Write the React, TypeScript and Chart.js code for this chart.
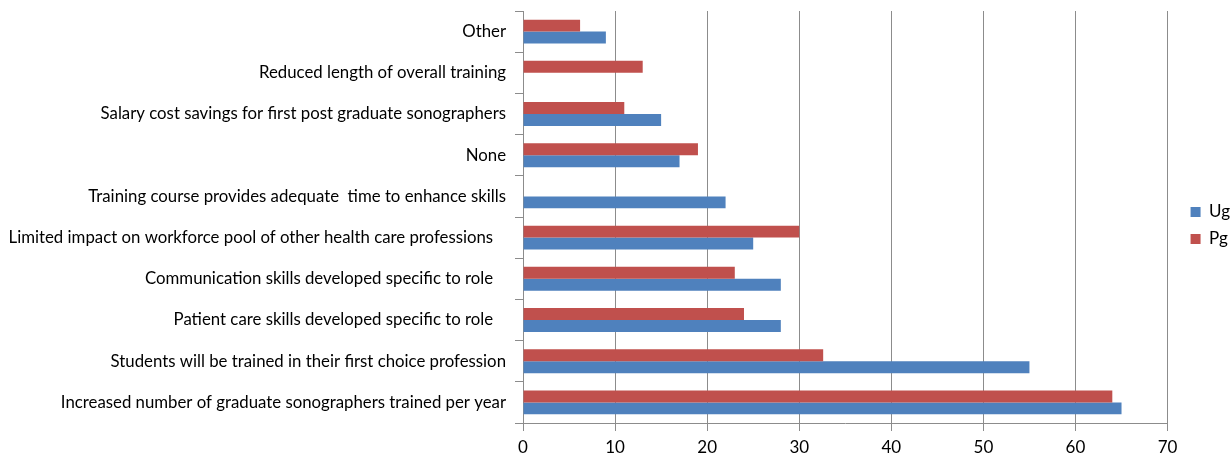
import React, { useEffect, useRef } from "react";
import { Chart, registerables } from "chart.js";

Chart.register(...registerables);

const categories = [
  "Other",
  "Reduced length of overall training",
  "Salary cost savings for first post graduate sonographers",
  "None",
  "Training course provides adequate  time to enhance skills",
  "Limited impact on workforce pool of other health care professions   ",
  "Communication skills developed specific to role   ",
  "Patient care skills developed specific to role   ",
  "Students will be trained in their first choice profession",
  "Increased number of graduate sonographers trained per year",
];

const ugValues = [9, 0, 15, 17, 22, 25, 28, 28, 55, 65];
const pgValues = [6.2, 13, 11, 19, 0, 30, 23, 24, 32.6, 64];

const xTicks = [0, 10, 20, 30, 40, 50, 60, 70];

const FONT = "Lato, 'Open Sans', sans-serif";

const legendShift = {
  id: "legendShift",
  afterLayout(chart: any) {
    const lg = chart.legend;
    if (!lg) return;
    const dx = 13;
    const dy = -8;
    lg.left += dx;
    lg.right += dx;
    lg.top += dy;
    lg.bottom += dy;
  },
};

export default function App() {
  const ref = useRef<HTMLCanvasElement | null>(null);

  useEffect(() => {
    if (!ref.current) return;
    const chart = new Chart(ref.current, {
      type: "bar",
      data: {
        labels: categories,
        datasets: [
          {
            label: "Pg",
            data: pgValues,
            backgroundColor: "#C0504D",
            borderWidth: 0,
            barPercentage: 1,
            categoryPercentage: 0.58,
          },
          {
            label: "Ug",
            data: ugValues,
            backgroundColor: "#4F81BD",
            borderWidth: 0,
            barPercentage: 1,
            categoryPercentage: 0.58,
          },
        ],
      },
      plugins: [legendShift],
      options: {
        indexAxis: "y",
        animation: false,
        responsive: true,
        maintainAspectRatio: false,
        layout: { padding: { top: 11, right: 5, left: 0, bottom: 0 } },
        plugins: {
          tooltip: { enabled: false },
          legend: {
            position: "right",
            reverse: true,
            labels: {
              boxWidth: 10,
              boxHeight: 10,
              padding: 10,
              color: "#000",
              font: { family: FONT, size: 17 },
            },
          },
        },
        scales: {
          x: {
            min: 0,
            max: 70,
            afterBuildTicks: (axis: any) => {
              axis.ticks = xTicks.map((v) => ({ value: v }));
            },
            afterFit: (scale: any) => {
              scale.height = 33;
            },
            grid: {
              color: "#8c8c8c",
              lineWidth: 1,
              drawTicks: true,
              tickLength: 8,
            },
            border: { color: "#8c8c8c", width: 1 },
            ticks: {
              color: "#000",
              font: { family: FONT, size: 17 },
              padding: 6,
              maxRotation: 0,
            },
          },
          y: {
            afterFit: (scale: any) => {
              scale.width = 523;
              scale.paddingTop = 0;
              scale.paddingBottom = 0;
            },
            grid: {
              display: true,
              drawOnChartArea: false,
              drawTicks: true,
              tickLength: 8,
              offset: true,
              color: "#8c8c8c",
            },
            border: { color: "#8c8c8c", width: 1 },
            ticks: {
              color: "#000",
              font: { family: FONT, size: 16.8 },
              padding: 9,
              autoSkip: false,
            },
          },
        },
      },
    });
    return () => chart.destroy();
  }, []);

  return (
    <div
      style={{
        position: "fixed",
        left: 0,
        top: 0,
        width: 1232,
        height: 456,
        background: "#fff",
      }}
    >
      <canvas ref={ref} />
    </div>
  );
}
